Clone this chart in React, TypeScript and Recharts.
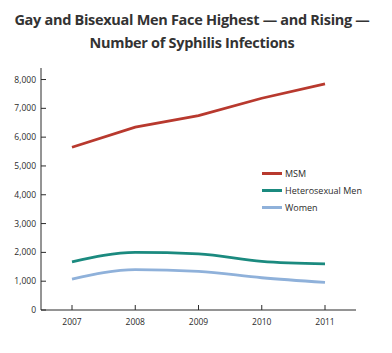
import { Line, LineChart, XAxis, YAxis } from 'recharts';

document.body.style.margin = '0';

const years = ['2007', '2008', '2009', '2010', '2011'];
const msm = [5650, 6350, 6750, 7350, 7850];
const heteroMen = [1670, 2000, 1950, 1690, 1600];
const women = [1070, 1400, 1340, 1120, 960];
const yTicks = [0, 1000, 2000, 3000, 4000, 5000, 6000, 7000, 8000];

const red = '#b8392e';
const teal = '#1b8a7f';
const blue = '#8fb1da';
const ink = '#2b2b2b';
const font = '"Open Sans", "Noto Sans", sans-serif';

const rows = years.map((y, i) => ({
  year: y,
  msm: msm[i],
  hetero: heteroMen[i],
  women: women[i],
}));

const legendItems = [
  { name: 'MSM', color: red },
  { name: 'Heterosexual Men', color: teal },
  { name: 'Women', color: blue },
];

function YTick(props: any) {
  const { x, y, payload } = props;
  return (
    <g>
      <line x1={x} x2={x + 5} y1={y} y2={y} stroke={ink} strokeWidth={1} />
      <text x={x - 5} y={y} dy={3} textAnchor="end" fontSize={8.5} fill={ink} fontFamily={font}>
        {payload.value.toLocaleString('en-US')}
      </text>
    </g>
  );
}

function XTick(props: any) {
  const { x, y, payload } = props;
  return (
    <g>
      <line x1={x} x2={x} y1={y - 5} y2={y} stroke={ink} strokeWidth={1} />
      <text x={x} y={y + 15} textAnchor="middle" fontSize={8.5} fill={ink} fontFamily={font}>
        {payload.value}
      </text>
    </g>
  );
}

export default function App() {
  return (
    <div style={{ position: 'relative', width: 392, height: 353, background: '#fff', fontFamily: font }}>
      <div
        style={{
          position: 'absolute',
          top: 8,
          left: 0,
          width: 384,
          textAlign: 'center',
          fontSize: 14.5,
          fontWeight: 700,
          lineHeight: '23px',
          color: '#333',
          letterSpacing: -0.3,
        }}
      >
        Gay and Bisexual Men Face Highest — and Rising —
        <br />
        Number of Syphilis Infections
      </div>
      <LineChart width={392} height={353} data={rows} margin={{ top: 68, right: 36, bottom: 13, left: 0 }}>
        <XAxis
          dataKey="year"
          height={30}
          padding={{ left: 31, right: 31 }}
          stroke={ink}
          tickLine={false}
          tickSize={0}
          tickMargin={0}
          tick={<XTick />}
        />
        <YAxis
          width={41}
          domain={[0, 8400]}
          ticks={yTicks}
          stroke={ink}
          tickLine={false}
          tickSize={0}
          tickMargin={0}
          tick={<YTick />}
        />
        <Line type="linear" dataKey="msm" stroke={red} strokeWidth={2.8} dot={false} isAnimationActive={false} />
        <Line type="monotone" dataKey="hetero" stroke={teal} strokeWidth={2.8} dot={false} isAnimationActive={false} />
        <Line type="monotone" dataKey="women" stroke={blue} strokeWidth={2.8} dot={false} isAnimationActive={false} />
      </LineChart>
      <div style={{ position: 'absolute', left: 262, top: 165 }}>
        {legendItems.map((it) => (
          <div key={it.name} style={{ display: 'flex', alignItems: 'center', height: 17, fontSize: 9, color: ink }}>
            <span style={{ display: 'inline-block', width: 20, height: 3, background: it.color, marginRight: 3 }} />
            {it.name}
          </div>
        ))}
      </div>
    </div>
  );
}
